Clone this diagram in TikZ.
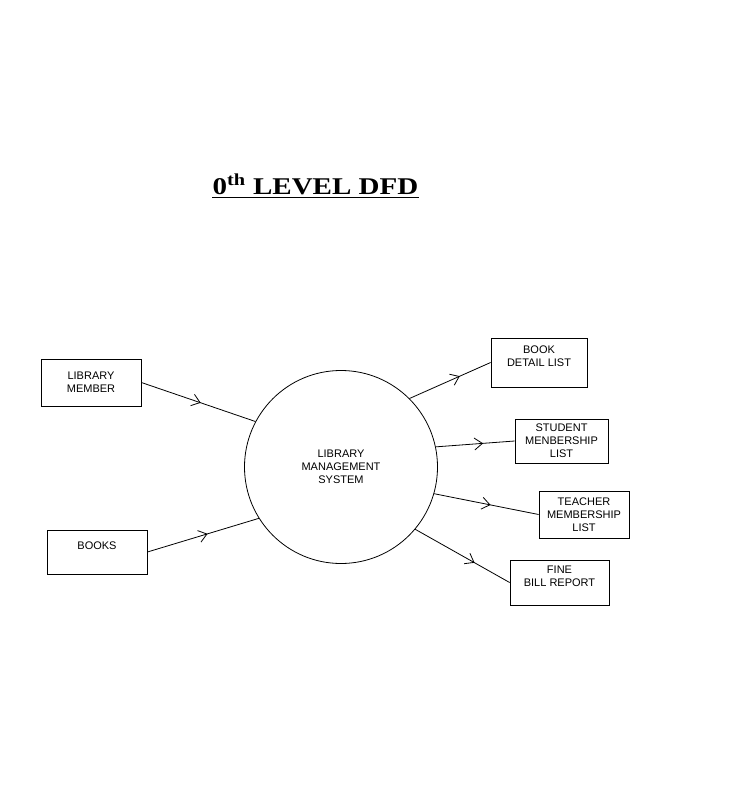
\documentclass[tikz,border=0pt]{standalone}
\usepackage{fontspec}
\setmainfont{Liberation Serif}
\setsansfont{Liberation Sans}
\usetikzlibrary{positioning,arrows.meta,decorations.markings}
\tikzset{
  entity/.style={rectangle, draw, line width=0.8pt, inner sep=0pt, align=center,
    font=\sffamily\fontsize{11}{13}\selectfont},
  process/.style={circle, draw, line width=0.8pt, inner sep=0pt, align=center,
    minimum size=193pt, font=\sffamily\fontsize{11}{13}\selectfont},
  dataFlow/.style={line width=0.8pt, postaction={decorate},
    decoration={markings, mark=at position #1 with {\arrow{Straight Barb[length=8pt,width=12pt,line width=0.8pt]}}}},
  dataFlow/.default=0.57
}

\begin{document}
\begin{tikzpicture}[x=1pt, y=-1pt]
  \useasboundingbox (0,0) rectangle (737,787);
  % title
  \node [inner sep=0pt, font=\bfseries\fontsize{24}{28}\selectfont] (title) at (315.5,184)
    {\scalebox{1.21}[1]{0\textsuperscript{th} LEVEL DFD}};
  \draw [line width=1.5pt] (title.south west) ++(0,3) coordinate (ulA) -- (ulA -| title.south east);
  % system
  \node [process] (lms) at (341,467) {LIBRARY\\MANAGEMENT\\SYSTEM};
  % external entities
  \node [entity, minimum width=100pt, minimum height=47pt] (member) at (91,382.5) {LIBRARY\\MEMBER};
  \node [entity, minimum width=100pt, minimum height=44pt] (books) at (97,552) {BOOKS\\\mbox{}};
  \node [entity, minimum width=96pt, minimum height=49pt] (bookList) at (539,362.5) {BOOK\\DETAIL LIST\\\mbox{}};
  \node [entity, minimum width=93pt, minimum height=44pt] (studentList) at (561.5,441) {STUDENT\\MENBERSHIP\\LIST};
  \node [entity, minimum width=90pt, minimum height=47pt] (teacherList) at (584,514.5) {TEACHER\\MEMBERSHIP\\LIST};
  \node [entity, minimum width=99pt, minimum height=45pt] (fineReport) at (559.5,582.5) {FINE\\BILL REPORT\\\mbox{}};
  % flows
  \draw [dataFlow=0.52] (member.east) -- (lms.152.6);
  \draw [dataFlow=0.54] (books.east) -- (lms.212.4);
  \draw [dataFlow=0.62] (lms.45.4) -- (bookList.west);
  \draw [dataFlow=0.6] (lms.12.5) -- (studentList.west);
  \draw [dataFlow=0.54] (lms.-16) -- (teacherList.west);
  \draw [dataFlow=0.63] (lms.-40) -- (fineReport.west);
\end{tikzpicture}
\end{document}
